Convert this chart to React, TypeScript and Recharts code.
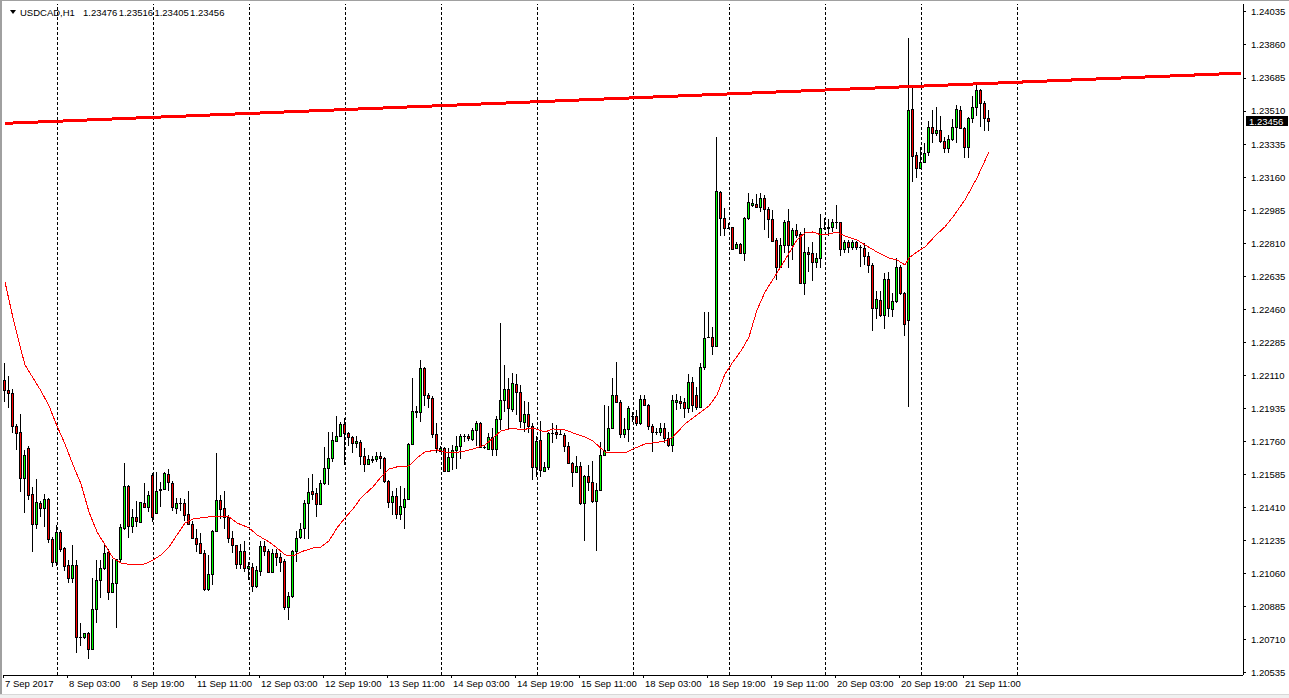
import React from "react";
import { Bar, ComposedChart, Line, ReferenceLine, XAxis, YAxis } from "recharts";

// hourly USDCAD candles, one per slot
const opens = [
  1.22086, 1.22033, 1.22019, 1.21843, 1.21811, 1.21565, 1.21726, 1.21483, 1.21322, 1.21437,
  1.21407, 1.21454, 1.21246, 1.21124, 1.21281, 1.21197, 1.21105, 1.2104, 1.21105, 1.20727,
  1.20724, 1.20748, 1.2066, 1.20872, 1.21027, 1.21089, 1.21175, 1.20962, 1.2101, 1.2114,
  1.21301, 1.21525, 1.21313, 1.21359, 1.21333, 1.21433, 1.21412, 1.21583, 1.21384, 1.21507,
  1.21507, 1.21589, 1.2154, 1.21407, 1.21437, 1.21437, 1.21377, 1.21324, 1.21252, 1.21222,
  1.21169, 1.20978, 1.2106, 1.21287, 1.21452, 1.21407, 1.21363, 1.21248, 1.2121, 1.21111,
  1.21181, 1.2109, 1.21095, 1.20993, 1.21077, 1.21208, 1.21178, 1.21067, 1.21172, 1.21148,
  1.21125, 1.20883, 1.2094, 1.21178, 1.21254, 1.21301, 1.21437, 1.21496, 1.21487, 1.2143,
  1.2154, 1.21619, 1.21672, 1.21764, 1.21787, 1.21852, 1.21804, 1.21782, 1.21751, 1.2176,
  1.21681, 1.2164, 1.2166, 1.21667, 1.21684, 1.21672, 1.21549, 1.21439, 1.21473, 1.21376,
  1.21416, 1.21457, 1.21746, 1.21924, 1.21916, 1.22149, 1.22007, 1.2199, 1.21799, 1.21711,
  1.21725, 1.21605, 1.21676, 1.21716, 1.21737, 1.21787, 1.21792, 1.21774, 1.21822, 1.21857,
  1.21729, 1.21722, 1.21782, 1.21722, 1.2188, 1.21981, 1.22039, 1.21933, 1.22066, 1.22022,
  1.21866, 1.21905, 1.2184, 1.21628, 1.21769, 1.21606, 1.21628, 1.21804, 1.21813, 1.21799,
  1.21796, 1.21737, 1.21649, 1.21598, 1.21632, 1.21434, 1.21577, 1.21545, 1.21443, 1.21501,
  1.2169, 1.21716, 1.21831, 1.22007, 1.21969, 1.21799, 1.21827, 1.21898, 1.21898, 1.21857,
  1.21984, 1.21954, 1.2184, 1.2181, 1.2181, 1.2183, 1.21777, 1.21742, 1.21972, 1.21975,
  1.21968, 1.2194, 1.22074, 1.22007, 1.21945, 1.22153, 1.22316, 1.22316, 1.22266, 1.23083,
  1.22942, 1.22893, 1.22895, 1.22783, 1.22805, 1.2276, 1.22942, 1.23013, 1.23018, 1.23004,
  1.23048, 1.2299, 1.22937, 1.22828, 1.22683, 1.22801, 1.2293, 1.22801, 1.22881, 1.22859,
  1.22602, 1.22766, 1.22757, 1.22713, 1.2273, 1.22889, 1.22893, 1.22895, 1.22925, 1.22922,
  1.22779, 1.22816, 1.22789, 1.22816, 1.22789, 1.22784, 1.22743, 1.22696, 1.22466, 1.2251,
  1.22431, 1.2262, 1.22461, 1.22502, 1.22683, 1.22549, 1.22404, 1.2352, 1.23278, 1.23208,
  1.23238, 1.23291, 1.23428, 1.23393, 1.23411, 1.23349, 1.23313, 1.23361, 1.23425, 1.23516,
  1.23419, 1.23322, 1.23472, 1.23534, 1.23622, 1.23555, 1.23476,
];
const highs = [
  1.22174, 1.22107, 1.22037, 1.21853, 1.21906, 1.21716, 1.21737, 1.21521, 1.2156, 1.21447,
  1.21483, 1.2146, 1.21257, 1.21318, 1.21292, 1.212, 1.21133, 1.21212, 1.21133, 1.20798,
  1.20748, 1.20754, 1.21036, 1.21133, 1.21133, 1.21221, 1.2119, 1.21137, 1.2114, 1.21324,
  1.21645, 1.2153, 1.21401, 1.21447, 1.21442, 1.21539, 1.215, 1.21592, 1.21601, 1.21548,
  1.21601, 1.21614, 1.21549, 1.2146, 1.2146, 1.21455, 1.21496, 1.21337, 1.21296, 1.21275,
  1.21187, 1.2116, 1.21293, 1.21702, 1.21478, 1.21496, 1.21372, 1.21284, 1.21213, 1.21218,
  1.21231, 1.2112, 1.21116, 1.21099, 1.21236, 1.21231, 1.2119, 1.2119, 1.2119, 1.21172,
  1.21137, 1.20966, 1.21187, 1.21284, 1.21328, 1.21451, 1.21566, 1.21589, 1.21513, 1.21557,
  1.2173, 1.21813, 1.2181, 1.21893, 1.21863, 1.21884, 1.21813, 1.21792, 1.21787, 1.21769,
  1.21725, 1.2169, 1.21681, 1.21707, 1.21707, 1.21676, 1.21554, 1.21496, 1.21513, 1.21527,
  1.21513, 1.21751, 1.22096, 1.21946, 1.22193, 1.22157, 1.22016, 1.21999, 1.21857, 1.21734,
  1.21729, 1.21725, 1.21743, 1.21787, 1.21799, 1.21799, 1.21799, 1.21834, 1.2187, 1.21866,
  1.21743, 1.21804, 1.21831, 1.21893, 1.22387, 1.22166, 1.22096, 1.22122, 1.22117, 1.2206,
  1.21976, 1.21969, 1.21857, 1.21787, 1.2187, 1.21654, 1.21813, 1.21857, 1.21848, 1.21822,
  1.21804, 1.2176, 1.21654, 1.21681, 1.21654, 1.21584, 1.21637, 1.21658, 1.2154, 1.2176,
  1.21954, 1.21946, 1.22096, 1.22184, 1.21981, 1.21887, 1.21946, 1.21919, 1.21928, 1.22007,
  1.22004, 1.21958, 1.21852, 1.21831, 1.21857, 1.21857, 1.21813, 1.22007, 1.2201, 1.22002,
  1.21989, 1.22118, 1.22104, 1.22051, 1.22175, 1.22448, 1.22448, 1.22369, 1.23375, 1.23087,
  1.22995, 1.22916, 1.22898, 1.22819, 1.2281, 1.22948, 1.23078, 1.23043, 1.23071, 1.23078,
  1.23066, 1.23, 1.22986, 1.22836, 1.22836, 1.22933, 1.2299, 1.22889, 1.22912, 1.22872,
  1.22889, 1.22792, 1.22819, 1.2276, 1.22965, 1.22942, 1.22937, 1.22937, 1.23013, 1.22925,
  1.22825, 1.22825, 1.22825, 1.22823, 1.22802, 1.2281, 1.22766, 1.22705, 1.22555, 1.22555,
  1.22652, 1.2266, 1.22546, 1.22731, 1.22694, 1.22554, 1.23899, 1.23649, 1.23291, 1.23319,
  1.23343, 1.2346, 1.23516, 1.23531, 1.23485, 1.23372, 1.23384, 1.23467, 1.23543, 1.23538,
  1.23428, 1.23478, 1.23591, 1.23666, 1.23626, 1.23561, 1.23516,
];
const lows = [
  1.21971, 1.21936, 1.21804, 1.21716, 1.21495, 1.2138, 1.21451, 1.21177, 1.21299, 1.21363,
  1.2131, 1.21225, 1.21094, 1.21101, 1.21177, 1.21075, 1.21009, 1.21009, 1.20639, 1.20678,
  1.20717, 1.20607, 1.20657, 1.20801, 1.2093, 1.2108, 1.20921, 1.20957, 1.20771, 1.21115,
  1.21292, 1.21248, 1.21274, 1.2131, 1.21327, 1.21407, 1.21389, 1.21336, 1.2138, 1.21412,
  1.21504, 1.21496, 1.2139, 1.21377, 1.2139, 1.21342, 1.21319, 1.21243, 1.21173, 1.21166,
  1.20971, 1.20971, 1.21001, 1.21284, 1.21349, 1.21296, 1.21222, 1.21169, 1.21086, 1.21086,
  1.21067, 1.21028, 1.20966, 1.20984, 1.21046, 1.21152, 1.21064, 1.21064, 1.21099, 1.21072,
  1.20869, 1.20816, 1.20931, 1.2112, 1.21243, 1.21243, 1.21243, 1.21452, 1.21363, 1.21425,
  1.21531, 1.21531, 1.2165, 1.2176, 1.21782, 1.21637, 1.21739, 1.21698, 1.21725, 1.21637,
  1.21601, 1.21637, 1.21646, 1.21651, 1.21615, 1.2154, 1.21407, 1.21372, 1.21351, 1.21346,
  1.21298, 1.21451, 1.21742, 1.21884, 1.21866, 1.21946, 1.2194, 1.21778, 1.21698, 1.21707,
  1.21598, 1.21601, 1.2161, 1.21615, 1.21668, 1.2176, 1.21764, 1.21764, 1.21734, 1.21725,
  1.21721, 1.21716, 1.21681, 1.21681, 1.21822, 1.21919, 1.21822, 1.21919, 1.21901, 1.21831,
  1.21813, 1.21804, 1.21557, 1.21575, 1.2157, 1.21601, 1.2161, 1.21751, 1.21774, 1.21796,
  1.21707, 1.21646, 1.21517, 1.21593, 1.21425, 1.21236, 1.21496, 1.21434, 1.21178, 1.21496,
  1.2169, 1.21711, 1.21831, 1.21963, 1.21778, 1.21778, 1.2176, 1.21866, 1.21845, 1.21849,
  1.21954, 1.21822, 1.21704, 1.21796, 1.21787, 1.21751, 1.21733, 1.21707, 1.21927, 1.21931,
  1.21883, 1.2191, 1.21919, 1.21927, 1.21936, 1.22139, 1.22307, 1.22219, 1.22263, 1.22849,
  1.22849, 1.22884, 1.22775, 1.22778, 1.2276, 1.22718, 1.22933, 1.23004, 1.23, 1.22978,
  1.22881, 1.22836, 1.22819, 1.22616, 1.22678, 1.2276, 1.22678, 1.22722, 1.22836, 1.22595,
  1.22536, 1.2266, 1.22612, 1.22678, 1.22678, 1.22881, 1.22846, 1.22872, 1.22887, 1.22745,
  1.22757, 1.22761, 1.22775, 1.22775, 1.22683, 1.22696, 1.22655, 1.22348, 1.22408, 1.22419,
  1.22355, 1.22419, 1.22419, 1.22496, 1.22537, 1.2232, 1.21943, 1.23137, 1.23155, 1.23202,
  1.23234, 1.23273, 1.2334, 1.23379, 1.23343, 1.2329, 1.2329, 1.23349, 1.2334, 1.23414,
  1.2326, 1.2326, 1.23446, 1.23485, 1.23428, 1.23407, 1.23405,
];
const closes = [
  1.22033, 1.22016, 1.21843, 1.21807, 1.21565, 1.21687, 1.21475, 1.21322, 1.2144, 1.21407,
  1.21454, 1.21242, 1.21124, 1.21281, 1.21193, 1.21101, 1.2104, 1.21105, 1.20724, 1.20724,
  1.20745, 1.2066, 1.20875, 1.21027, 1.21091, 1.21172, 1.20962, 1.2101, 1.21137, 1.2131,
  1.21525, 1.21313, 1.21359, 1.21338, 1.21438, 1.21412, 1.21477, 1.21359, 1.215, 1.21504,
  1.21592, 1.21547, 1.21413, 1.21434, 1.21437, 1.21372, 1.21324, 1.21248, 1.21218, 1.21169,
  1.20978, 1.2106, 1.21287, 1.21452, 1.21402, 1.21363, 1.21248, 1.2121, 1.21111, 1.21181,
  1.2109, 1.21102, 1.20993, 1.21081, 1.21208, 1.21178, 1.21067, 1.21172, 1.21148, 1.2112,
  1.20883, 1.2094, 1.21178, 1.21248, 1.21296, 1.21437, 1.21492, 1.21483, 1.2143, 1.2154,
  1.21619, 1.21672, 1.21766, 1.21792, 1.21852, 1.21804, 1.21782, 1.21751, 1.21764, 1.21681,
  1.2164, 1.21667, 1.21669, 1.21684, 1.21672, 1.21549, 1.21439, 1.21473, 1.21376, 1.2142,
  1.21457, 1.21746, 1.21924, 1.21916, 1.22149, 1.22007, 1.2199, 1.21799, 1.21725, 1.21725,
  1.21605, 1.21676, 1.21716, 1.21737, 1.21792, 1.21787, 1.21778, 1.21822, 1.21857, 1.21729,
  1.21729, 1.21782, 1.21722, 1.2188, 1.21981, 1.22039, 1.21937, 1.22069, 1.22022, 1.2187,
  1.21905, 1.2184, 1.21628, 1.21764, 1.2161, 1.21628, 1.21804, 1.21804, 1.21799, 1.21799,
  1.21734, 1.21649, 1.21598, 1.21632, 1.21434, 1.21577, 1.21545, 1.21443, 1.21504, 1.2169,
  1.21716, 1.21831, 1.22007, 1.21969, 1.21799, 1.21827, 1.21937, 1.21898, 1.21857, 1.21984,
  1.21954, 1.2184, 1.2181, 1.2181, 1.21831, 1.21777, 1.21742, 1.2198, 1.2198, 1.21963,
  1.2194, 1.22074, 1.21954, 1.21945, 1.22153, 1.22307, 1.22316, 1.22266, 1.23087, 1.22942,
  1.22893, 1.22893, 1.22778, 1.22805, 1.2276, 1.22942, 1.23027, 1.23025, 1.23004, 1.23048,
  1.2299, 1.22937, 1.22824, 1.22683, 1.22801, 1.22925, 1.22801, 1.22881, 1.22854, 1.22602,
  1.22766, 1.22753, 1.22713, 1.22734, 1.22889, 1.22889, 1.22896, 1.22925, 1.22925, 1.22779,
  1.22816, 1.22789, 1.22816, 1.22789, 1.22789, 1.2274, 1.22696, 1.22466, 1.22514, 1.22431,
  1.2262, 1.22466, 1.22502, 1.22683, 1.22546, 1.22383, 1.23516, 1.23273, 1.23208, 1.23238,
  1.2329, 1.23428, 1.23393, 1.23411, 1.23349, 1.23313, 1.23361, 1.23425, 1.2352, 1.23419,
  1.23322, 1.23472, 1.23531, 1.23622, 1.23552, 1.23472, 1.23456,
];

// red moving average, sampled at these candle slots
const maIndex = [
  0, 2, 4, 5, 7, 9, 11, 13, 15, 17, 19, 21, 23, 25, 27, 29, 32, 35, 37, 39, 41, 43, 45, 47, 51,
  54, 56, 58, 61, 63, 66, 68, 70, 72, 74, 77, 79, 81, 83, 85, 87, 89, 92, 94, 96, 98, 101, 103,
  105, 108, 110, 112, 115, 117, 120, 122, 124, 127, 129, 132, 135, 137, 140, 142, 145, 147, 150,
  152, 155, 157, 160, 162, 165, 167, 170, 173, 176, 178, 180, 182, 184, 186, 188, 190, 193, 195,
  198, 200, 202, 204, 206, 208, 210, 213, 215, 218, 221, 223, 225, 226, 228, 230, 233, 235, 237,
  240, 243, 246,
];
const maValues = [
  1.22605, 1.22415, 1.22245, 1.22166, 1.22097, 1.22028, 1.21949, 1.21843, 1.21747, 1.21636,
  1.21536, 1.21387, 1.21282, 1.21213, 1.21144, 1.21117, 1.21107, 1.21112, 1.21133, 1.2116,
  1.21202, 1.21266, 1.21329, 1.21351, 1.21361, 1.21366, 1.21361, 1.21329, 1.21303, 1.21266,
  1.21229, 1.21197, 1.2116, 1.21154, 1.21176, 1.21197, 1.21202, 1.21234, 1.21303, 1.21356,
  1.21403, 1.21462, 1.2152, 1.21573, 1.21615, 1.21626, 1.21631, 1.21673, 1.21705, 1.21716,
  1.21705, 1.217, 1.2171, 1.21721, 1.21742, 1.21779, 1.21816, 1.21832, 1.21822, 1.21832,
  1.21811, 1.21827, 1.21822, 1.21806, 1.21785, 1.21763, 1.21705, 1.217, 1.217, 1.21721,
  1.21747, 1.21753, 1.21763, 1.21785, 1.21853, 1.21901, 1.21949, 1.22007, 1.22118, 1.22182,
  1.2224, 1.22314, 1.22457, 1.22552, 1.22653, 1.22722, 1.22828, 1.22865, 1.2287, 1.22854,
  1.22859, 1.2287, 1.22849, 1.22828, 1.22801, 1.22764, 1.22732, 1.22722, 1.22695, 1.22732,
  1.22764, 1.22791, 1.22859, 1.22897, 1.2295, 1.2304, 1.23156, 1.23294,
];

// hand-drawn trend line, its two anchor slots
const trendIndex = [0, 309];
const trendValues = [1.23445, 1.23711];

const slotCount = 310;
const dayStarts = [13, 37, 61, 85, 109, 133, 157, 181, 205, 229, 253];
const timeTicks = [0, 16, 32, 48, 64, 80, 96, 112, 128, 144, 160, 176, 192, 208, 224, 240];
const timeLabels = [
  "7 Sep 2017", "8 Sep 03:00", "8 Sep 19:00", "11 Sep 11:00", "12 Sep 03:00", "12 Sep 19:00",
  "13 Sep 11:00", "14 Sep 03:00", "14 Sep 19:00", "15 Sep 11:00", "18 Sep 03:00", "18 Sep 19:00",
  "19 Sep 11:00", "20 Sep 03:00", "20 Sep 19:00", "21 Sep 11:00",
];
const priceTicks = [
  1.20535, 1.2071, 1.20885, 1.2106, 1.21235, 1.2141, 1.21585, 1.2176, 1.21935, 1.2211, 1.22285,
  1.2246, 1.22635, 1.2281, 1.22985, 1.2316, 1.23335, 1.2351, 1.23685, 1.2386, 1.24035,
];
const lastPrice = 1.23456;
const title = "USDCAD,H1";
const titleQuote = ["1.23476", "1.23516", "1.23405", "1.23456"];

const data = Array.from({ length: slotCount }, (_, i) => {
  const row: any = { i };
  if (i < opens.length) {
    row.o = opens[i];
    row.h = highs[i];
    row.l = lows[i];
    row.c = closes[i];
    row.range = [lows[i], highs[i]];
  }
  const m = maIndex.indexOf(i);
  if (m >= 0) row.ma = maValues[m];
  const t = trendIndex.indexOf(i);
  if (t >= 0) row.trend = trendValues[t];
  return row;
});

const FONT = "'Liberation Sans', Arial, sans-serif";
const FS = 9.5;

function Candle(props: any) {
  const { x, y, width, height, payload } = props;
  if (!payload || payload.o == null || !height) return null;
  const top = Math.min(y, y + height);
  const h = Math.abs(height);
  const k = h / (payload.h - payload.l);
  const py = (v: number) => top + (payload.h - v) * k;
  const cx = Math.round(x + width / 2 - 0.5);
  const up = payload.c >= payload.o;
  const bTop = Math.round(py(Math.max(payload.o, payload.c)));
  const bBot = Math.round(py(Math.min(payload.o, payload.c)));
  const wTop = Math.round(top);
  const wBot = Math.max(Math.round(top + h), wTop + 1);
  const bh = Math.max(bBot - bTop, 0);
  return (
    <g>
      <rect x={cx} y={wTop} width={1} height={wBot - wTop} fill="#000" />
      <rect x={cx - 1} y={bTop} width={3} height={bh + 1} fill="#000" />
      {bh >= 2 && (
        <rect x={cx} y={bTop + 1} width={1} height={bh - 1} fill={up ? "#00ff00" : "#ff0000"} />
      )}
    </g>
  );
}

function TimeTick(props: any) {
  const { x, y, payload } = props;
  const n = timeTicks.indexOf(payload.value);
  if (n < 0) return <g />;
  return (
    <g>
      <rect x={Math.round(x) - 2} y={y} width={1} height={3} fill="#000" />
      <text x={x} y={y + 12} fontSize={FS} fontFamily={FONT} fill="#000">
        {timeLabels[n]}
      </text>
    </g>
  );
}

function PriceTag(props: any) {
  const vb = props.viewBox;
  if (!vb) return null;
  const left = vb.x + vb.width + 3;
  return (
    <g>
      <rect x={left} y={Math.round(vb.y) - 5} width={42} height={10} fill="#000" />
      <text x={left + 3} y={vb.y + 3.5} fontSize={FS} fontFamily={FONT} fill="#fff">
        {lastPrice.toFixed(5)}
      </text>
    </g>
  );
}

export default function App() {
  return (
    <div style={{ position: "absolute", left: 0, top: 0, width: 1289, height: 698, background: "#fff", overflow: "hidden" }}>
      <ComposedChart
        width={1289}
        height={698}
        data={data}
        margin={{ top: 4, right: 0, left: 3, bottom: 0 }}
        style={{ shapeRendering: "crispEdges" }}
      >
        <XAxis
          dataKey="i"
          type="category"
          interval={0}
          height={23}
          tickSize={0}
          tickMargin={0}
          tickLine={false}
          axisLine={{ stroke: "#000" }}
          tick={<TimeTick />}
        />
        <XAxis xAxisId="top" dataKey="i" type="category" orientation="top" height={0} tick={false} tickLine={false} axisLine={{ stroke: "#000" }} />
        <YAxis
          orientation="right"
          type="number"
          domain={[1.20524, 1.24077]}
          allowDataOverflow
          ticks={priceTicks}
          interval={0}
          width={46}
          tickSize={3}
          tickMargin={5}
          tickFormatter={(v: number) => v.toFixed(5)}
          tick={{ fontSize: FS, fontFamily: FONT, fill: "#000" }}
          tickLine={{ stroke: "#000" }}
          axisLine={{ stroke: "#000" }}
        />
        <YAxis yAxisId="frame" orientation="left" width={0} domain={[0, 1]} tick={false} tickLine={false} axisLine={{ stroke: "#000" }} />
        {dayStarts.map((d) => (
          <ReferenceLine key={d} x={d} stroke="#000" strokeDasharray="3 2" />
        ))}
        <Line
          dataKey="ma"
          type="linear"
          stroke="#ff0000"
          strokeWidth={1}
          dot={false}
          connectNulls
          isAnimationActive={false}
        />
        <Bar dataKey="range" shape={<Candle />} isAnimationActive={false} />
        <Line
          dataKey="trend"
          type="linear"
          stroke="#ff0000"
          strokeWidth={3}
          dot={false}
          connectNulls
          isAnimationActive={false}
        />
        <ReferenceLine y={lastPrice} stroke="none" label={<PriceTag />} />
      </ComposedChart>
      <div style={{ position: "absolute", left: 0, top: 0, width: 2, height: 698, background: "#a0a0a0" }} />
      <div style={{ position: "absolute", left: 0, top: 0, width: 1289, height: 1, background: "#a0a0a0" }} />
      <div style={{ position: "absolute", left: 0, top: 694, width: 1289, height: 4, background: "#f0f0f0", borderTop: "1px solid #d8d8d8" }} />
      <div style={{ position: "absolute", left: 10, top: 10, width: 0, height: 0, borderLeft: "3px solid transparent", borderRight: "3px solid transparent", borderTop: "4px solid #000" }} />
      <div style={{ position: "absolute", left: 20, top: 7, fontFamily: FONT, fontSize: FS, lineHeight: "11px", color: "#000", whiteSpace: "nowrap" }}>
        {title}
      </div>
      {titleQuote.map((q, n) => (
        <div key={n} style={{ position: "absolute", left: 83 + n * 35.7, top: 7, fontFamily: FONT, fontSize: FS, lineHeight: "11px", color: "#000" }}>
          {q}
        </div>
      ))}
    </div>
  );
}
